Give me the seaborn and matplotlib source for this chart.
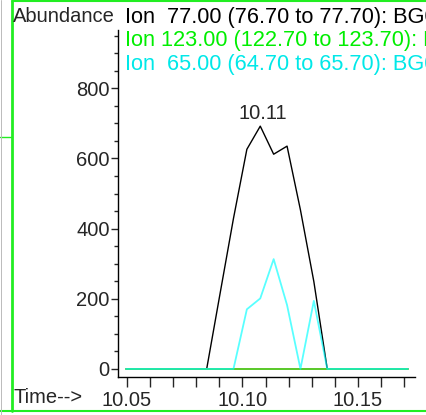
import numpy as np
import pandas as pd
import seaborn as sns
import matplotlib.pyplot as plt
from matplotlib.lines import Line2D
from matplotlib.ticker import MultipleLocator

# Retention times (min) of the scans
times = [10.0496, 10.0554, 10.0612, 10.0670, 10.0728, 10.0787, 10.0845, 10.0903,
         10.0961, 10.1019, 10.1077, 10.1135, 10.1193, 10.1251, 10.1309, 10.1367,
         10.1425, 10.1484, 10.1542, 10.1600, 10.1658, 10.1716]

# Ion abundances
ion_77 = [0, 0, 0, 0, 0, 0, 0, 215, 429, 626, 692, 612, 635, 453, 249, 0,
          0, 0, 0, 0, 0, 0]
ion_123 = [0] * 22
ion_65 = [0, 0, 0, 0, 0, 0, 0, 0, 0, 170, 201, 313, 182, 0, 194, 0,
          0, 0, 0, 0, 0, 0]

ion_labels = ["Ion  77.00 (76.70 to 77.70): BG0",
              "Ion 123.00 (122.70 to 123.70): BG0",
              "Ion  65.00 (64.70 to 65.70): BG0"]
ion_colors = ["black", "#00ee00", "#00e8e8"]
peak_label = "10.11"

sns.set_theme(style="ticks")
plt.rcParams['font.family'] = ['Liberation Sans', 'DejaVu Sans']

fig = plt.figure(figsize=(4.26, 4.15), dpi=100)
ax = fig.add_axes([118 / 426, 1 - 377 / 415, (415 - 118) / 426, (377 - 30) / 415])

df = pd.DataFrame({"Time": times, "I77": ion_77, "I123": ion_123, "I65": ion_65})
sns.lineplot(data=df, x="Time", y="I77", color="black", lw=1.0, ax=ax)
sns.lineplot(data=df, x="Time", y="I123", color="#58c828", lw=1.4, ax=ax)
sns.lineplot(data=df, x="Time", y="I65", color="#00ffff", lw=1.3, alpha=0.65, ax=ax)

# peak apex label
i_max = int(np.argmax(ion_77))
ax.annotate(peak_label, (times[i_max], ion_77[i_max]), xytext=(3, 3),
            textcoords="offset pixels", ha="center", va="bottom", fontsize=14.5)

ax.set_xlim(10.0461, 10.1747)
ax.set_ylim(-23, 966)
ax.set_xlabel("")
ax.set_ylabel("")
ax.xaxis.set_major_locator(MultipleLocator(0.05))
ax.xaxis.set_minor_locator(MultipleLocator(0.01))
ax.yaxis.set_major_locator(MultipleLocator(200))
ax.yaxis.set_minor_locator(MultipleLocator(50))
ax.xaxis.set_major_formatter(lambda v, p: f"{v:.2f}")
ax.tick_params(axis="x", which="both", length=7, width=1, pad=3, labelsize=14.5)
ax.tick_params(axis="y", which="major", length=5, width=1, pad=1, labelsize=14.5)
ax.tick_params(axis="y", which="minor", length=3, width=1)
sns.despine(ax=ax)
for s in ["left", "bottom"]:
    ax.spines[s].set_linewidth(1)
    ax.spines[s].set_color("black")

fig.text(13 / 426, 1 - 22 / 415, "Abundance", fontsize=14.5, va="baseline")
fig.text(13 / 426, 1 - 397 / 415, "Time-->", fontsize=14.5, va="center")
for lab, col, yb in zip(ion_labels, ion_colors, [23, 46, 70]):
    fig.text(125 / 426, 1 - yb / 415, lab, color=col, fontsize=15.7, va="baseline")

# window frame
frame = "#22ee22"
fig.add_artist(Line2D([12 / 426, 12 / 426], [1 - 1 / 415, 1 - 411 / 415], color=frame, lw=2))
fig.add_artist(Line2D([12 / 426, 1], [1 - 1.5 / 415, 1 - 1.5 / 415], color=frame, lw=1.5))
fig.add_artist(Line2D([0, 1], [1 - 411 / 415, 1 - 411 / 415], color=frame, lw=1.5))
fig.add_artist(Line2D([0, 12 / 426], [1 - 137 / 415, 1 - 137 / 415], color=frame, lw=1))
fig.add_artist(Line2D([0.5 / 426, 0.5 / 426], [0, 1], color="#bbbbbb", lw=0.7))

fig.savefig("out.png", dpi=100)
